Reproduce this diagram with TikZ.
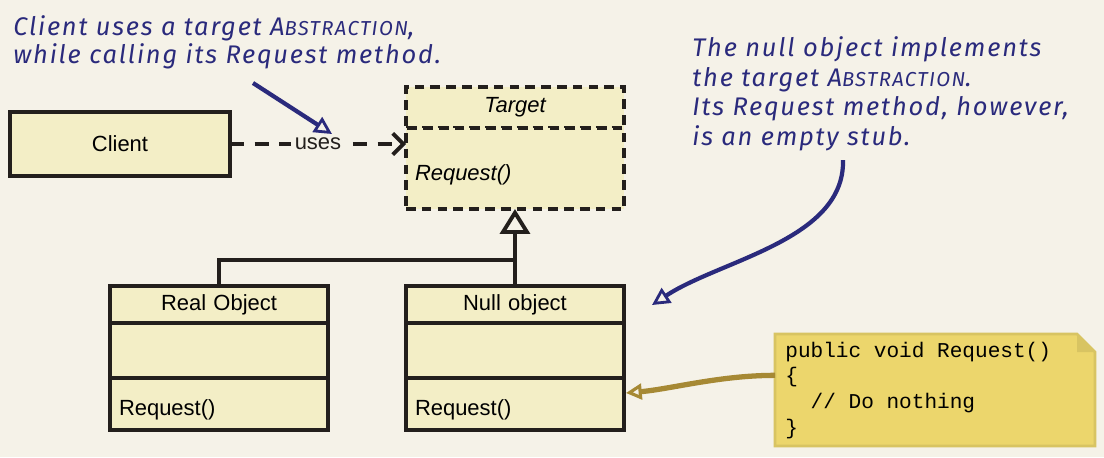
\documentclass[tikz,border=0pt]{standalone}
\usepackage{fontspec}
\setmainfont{Liberation Sans}
\setmonofont{Liberation Mono}
\newfontfamily\handfont{Fira Sans}[LetterSpace=7]
\usetikzlibrary{arrows.meta,positioning}
\definecolor{Paper}{HTML}{F5F2E8}
\definecolor{BoxFill}{HTML}{F3EEC6}
\definecolor{Ink}{HTML}{231F1C}
\definecolor{Pen}{HTML}{2A2A7C}
\definecolor{NoteFill}{HTML}{ECD66C}
\definecolor{NoteEdge}{HTML}{D8C462}
\definecolor{Olive}{HTML}{A68934}
\newcommand{\smc}[1]{{\fontsize{11.5}{12}\selectfont #1}}
\newcommand{\codegap}{\hphantom{0}}

\tikzset{
  classpart/.style={draw=Ink, line width=2.2pt, fill=BoxFill,
    minimum width=4.36cm, text width=4.0cm, inner xsep=0.18cm,
    outer sep=0pt, font=\fontsize{12.5}{15}\selectfont},
  oppart/.style={classpart, align=left, text height=16pt},
  penarrow/.style={draw=Pen, line width=2.4pt,
    -{Triangle[open, length=10pt, width=10pt, line width=1.6pt]}},
  handnote/.style={text=Pen, align=left, inner sep=0pt,
    font=\handfont\itshape\fontsize{14.5}{16}\selectfont}
}

\begin{document}
\begin{tikzpicture}[x=0.02cm, y=-0.02cm]
  \fill[Paper] (0,0) rectangle (1104,457);
  \useasboundingbox (0,0) rectangle (1104,457);

  % client and target abstraction
  \node[classpart, anchor=north west, minimum width=4.4cm,
        minimum height=1.28cm, align=center] (client) at (10,112) {Client};
  \node[classpart, anchor=north west, dash pattern=on 5.5pt off 3.5pt,
        minimum height=0.82cm, align=center,
        font=\fontsize{12.5}{15}\selectfont\itshape] (targetname) at (406,87) {Target};
  \node[oppart, below=0pt of targetname, dash pattern=on 5.5pt off 3.5pt,
        minimum height=1.62cm,
        font=\fontsize{12.5}{15}\selectfont\itshape] (targetops) {Request()};

  % concrete classes
  \node[classpart, anchor=north west, minimum height=0.74cm,
        align=center] (realname) at (110,286) {Real Object};
  \node[classpart, below=0pt of realname, minimum height=1.1cm] (realattr) {};
  \node[oppart, below=0pt of realattr, minimum height=1.04cm] (realops) {Request()};

  \node[classpart, anchor=north west, minimum height=0.74cm,
        align=center] (nullname) at (406,286) {Null object};
  \node[classpart, below=0pt of nullname, minimum height=1.1cm] (nullattr) {};
  \node[oppart, below=0pt of nullattr, minimum height=1.04cm] (nullops) {Request()};

  % dependency
  \draw[Ink, line width=2.2pt, dash pattern=on 8pt off 6pt,
        -{Straight Barb[length=6pt, width=12pt, line width=2.2pt]}]
    (client.east) -- node[fill=Paper, inner sep=2pt,
      font=\fontsize{12.5}{15}\selectfont] (uses) {uses}
    (client.east -| targetops.west);

  % generalization
  \path (nullname.north) ++(0,-26) coordinate (split);
  \draw[Ink, line width=2.2pt] (realname.north) |- (split) -- (nullname.north);
  \draw[Ink, line width=2.2pt,
        -{Triangle[open, length=0.5cm, width=0.6cm, line width=2.2pt]}]
    (split) -- (targetops.south);

  % code note
  \fill[NoteFill] (775,334) -- (1077,334) -- (1095,352) -- (1095,446)
    -- (775,446) -- cycle;
  \draw[NoteEdge, line width=1.6pt] (775,334) -- (1077,334) -- (1095,352)
    -- (1095,446) -- (775,446) -- cycle;
  \fill[NoteEdge] (1077,334) -- (1077,352) -- (1095,352) -- cycle;
  \node[anchor=north west, minimum width=6.4cm, minimum height=2.24cm,
        inner xsep=0.16cm, text width=6.0cm, align=left,
        font=\ttfamily\fontsize{12}{14.6}\selectfont] (note) at (775,334)
    {public\codegap void\codegap Request()\\
     \{\\
     \codegap\codegap//\codegap Do\codegap nothing\\
     \}};
  \path (note.west) ++(0,-15) coordinate (notefrom);
  \path (nullops.east) ++(2,-11) coordinate (noteto);
  \draw[Olive, line width=3pt,
        -{Triangle[open, length=9pt, width=9pt, line width=1.8pt]}]
    (notefrom) .. controls +(-55,0) and +(45,-4) .. (noteto);

  % annotations
  \node[handnote, anchor=north west] (clientnote) at (13,15)
    {Client uses a target A\smc{BSTRACTION},\\
     while calling its Request method.};
  \node[handnote, anchor=north west,
        font=\handfont\itshape\fontsize{14.5}{17}\selectfont] (nullnote) at (692,36)
    {The null object implements\\
     the target A\smc{BSTRACTION}.\\
     Its Request method, however,\\
     is an empty stub.};
  \coordinate (clientfrom) at (253,83);
  \coordinate (clientto) at (332,134);
  \draw[penarrow] (clientfrom) -- (clientto);
  \coordinate (nullfrom) at (843,160);
  \coordinate (nullto) at (652,305);
  \draw[penarrow] (nullfrom) .. controls (845,240) and (720,260) .. (nullto);
\end{tikzpicture}
\end{document}
